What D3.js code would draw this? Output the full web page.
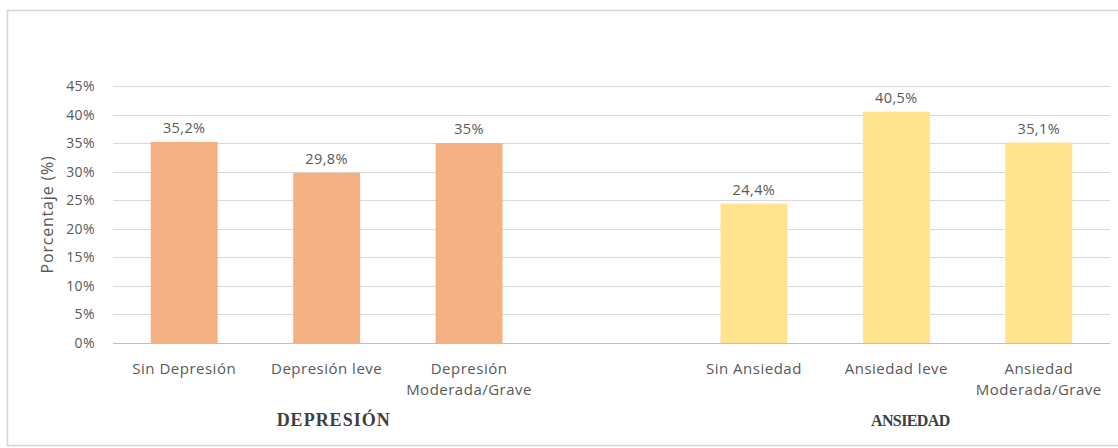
<!DOCTYPE html>
<html>
<head>
<meta charset="utf-8">
<script src="https://cdn.jsdelivr.net/npm/d3@7"></script>
<style>
  html, body { margin: 0; padding: 0; background: #fff; }
  svg { display: block; }
</style>
</head>
<body>
<svg id="chart" width="1118" height="448"></svg>
<script>
// ---- data ----
const slots = ["Sin Depresión", "Depresión leve", "Depresión Moderada/Grave", "", "Sin Ansiedad", "Ansiedad leve", "Ansiedad Moderada/Grave"];
const categoriesDep = ["Sin Depresión", "Depresión leve", "Depresión Moderada/Grave"];
const categoriesAns = ["Sin Ansiedad", "Ansiedad leve", "Ansiedad Moderada/Grave"];
const valuesDep = [35.2, 29.8, 35];
const valuesAns = [24.4, 40.5, 35.1];
const labelsDep = ["35,2%", "29,8%", "35%"];
const labelsAns = ["24,4%", "40,5%", "35,1%"];
const yTicks = [0, 5, 10, 15, 20, 25, 30, 35, 40, 45];
const groupTitles = ["DEPRESIÓN", "ANSIEDAD"];
const yTitle = "Porcentaje (%)";

(function () {
const colorDep = "#F4B183";
const colorAns = "#FFE38F";

const svg = d3.select("#chart");

// frame
svg.append("rect").attr("x", 7.5).attr("y", 10.5).attr("width", 1120).attr("height", 435)
  .attr("fill", "#fff").attr("stroke", "#d4d4d4").attr("stroke-width", 1.5);

const pL = 113, pR = 1110, pT = 86, pB = 343;
const x = d3.scaleBand().domain(d3.range(slots.length)).range([pL, pR]).paddingInner(0.53).paddingOuter(0.265);
const y = d3.scaleLinear().domain([0, 45]).range([pB, pT]);

const font = "'Open Sans', 'Noto Sans', sans-serif";
const textColor = "#595959";

// gridlines
svg.append("g").selectAll("line").data(yTicks.filter(d => d > 0)).join("line")
  .attr("x1", pL).attr("x2", pR)
  .attr("y1", d => Math.round(y(d)) + 0.5).attr("y2", d => Math.round(y(d)) + 0.5)
  .attr("stroke", "#d9d9d9").attr("stroke-width", 1);

// y axis labels
const yAxis = d3.axisLeft(y).tickValues(yTicks).tickFormat(d => d + "%").tickSize(0).tickPadding(18);
const gy = svg.append("g").attr("transform", `translate(${pL},0)`).call(yAxis);
gy.select(".domain").remove();
gy.selectAll("text").attr("font-family", font).attr("font-size", 14).attr("letter-spacing", 0.4).attr("fill", textColor);

// y title
svg.append("text").attr("transform", `translate(47,${(pT + pB) / 2}) rotate(-90)`)
  .attr("text-anchor", "middle").attr("dominant-baseline", "central")
  .attr("font-family", font).attr("font-size", 16).attr("letter-spacing", 0.8).attr("fill", textColor).text(yTitle);

// bars
const bars = [];
categoriesDep.forEach((c, i) => bars.push({ cat: c, v: valuesDep[i], lab: labelsDep[i], col: colorDep }));
categoriesAns.forEach((c, i) => bars.push({ cat: c, v: valuesAns[i], lab: labelsAns[i], col: colorAns }));
const idx = c => slots.indexOf(c);

svg.append("g").selectAll("rect").data(bars).join("rect")
  .attr("x", d => x(idx(d.cat))).attr("width", x.bandwidth())
  .attr("y", d => y(d.v)).attr("height", d => y(0) - y(d.v))
  .attr("fill", d => d.col);

// data labels
svg.append("g").selectAll("text").data(bars).join("text")
  .attr("x", d => x(idx(d.cat)) + x.bandwidth() / 2).attr("y", d => y(d.v) - 9)
  .attr("text-anchor", "middle").attr("font-family", font).attr("font-size", 14.5).attr("letter-spacing", 0.4).attr("fill", textColor)
  .text(d => d.lab);

// x axis line
svg.append("line").attr("x1", pL).attr("x2", pR).attr("y1", pB + 0.5).attr("y2", pB + 0.5)
  .attr("stroke", "#bfbfbf").attr("stroke-width", 1);

// category labels
const catG = svg.append("g");
slots.forEach((c, i) => {
  if (!c) return;
  const parts = c.includes("Moderada") ? [c.split(" ")[0], c.split(" ").slice(1).join(" ")] : [c];
  const cx = x(i) + x.bandwidth() / 2;
  const t = catG.append("text").attr("x", cx).attr("y", 374)
    .attr("text-anchor", "middle").attr("font-family", font).attr("font-size", 15).attr("letter-spacing", 0.5).attr("fill", textColor);
  parts.forEach((p, k) => t.append("tspan").attr("x", cx).attr("dy", k === 0 ? 0 : 21).text(p));
});

// group titles
const groupCenters = [x(idx(categoriesDep[1])) + x.bandwidth() / 2 + 7, x(idx(categoriesAns[1])) + x.bandwidth() / 2 + 14];
const groupSizes = [18, 16];
const groupSpacing = [1, -0.6];
groupTitles.forEach((g, i) => {
  svg.append("text").attr("x", groupCenters[i]).attr("y", 426)
    .attr("text-anchor", "middle").attr("font-family", "'Liberation Serif', serif").attr("font-weight", "bold")
    .attr("font-size", groupSizes[i]).attr("letter-spacing", groupSpacing[i]).attr("fill", "#404040").text(g);
});
})();
</script>
</body>
</html>
